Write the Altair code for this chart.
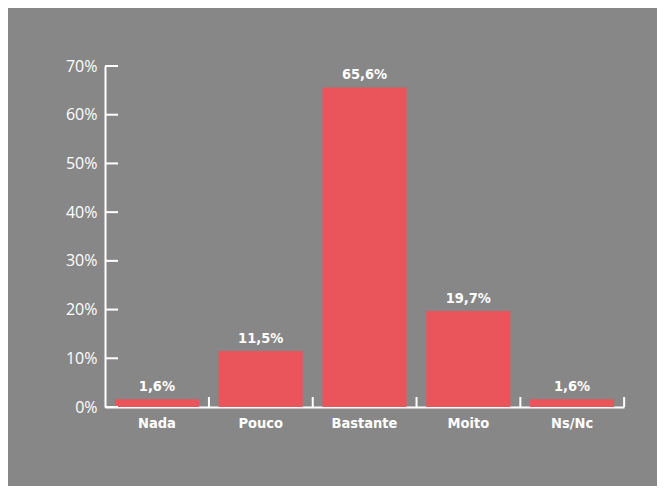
import altair as alt
import pandas as pd

categories = ["Nada", "Pouco", "Bastante", "Moito", "Ns/Nc"]
values = [1.6, 11.5, 65.6, 19.7, 1.6]
labels = ["1,6%", "11,5%", "65,6%", "19,7%", "1,6%"]
y_ticks = [0, 10, 20, 30, 40, 50, 60, 70]

df = pd.DataFrame({"cat": categories, "val": values, "lab": labels})
ticks_df = pd.DataFrame({"t": y_ticks})

BG = "#878787"
RED = "#ea555b"
W, H = 519, 341
BOLD_FONT = "'DejaVu Sans Condensed', 'Liberation Sans Narrow', 'Arial Narrow', sans-serif"

xscale = alt.Scale(domain=categories, paddingInner=0.19, paddingOuter=0.095)
yscale = alt.Scale(domain=[0, 70], nice=False)

bars = alt.Chart(df).mark_bar(color=RED).encode(
    x=alt.X("cat:N", scale=xscale, sort=categories, title=None,
            axis=alt.Axis(labelAngle=0, ticks=False, domainColor="white", domainWidth=2,
                          labelColor="white", labelFont=BOLD_FONT,
                          labelFontWeight="bold", labelFontSize=14.5, labelPadding=9)),
    y=alt.Y("val:Q", scale=yscale, title=None,
            axis=alt.Axis(values=y_ticks, labelExpr="datum.value + '%'", ticks=False,
                          grid=False, domainColor="white", domainWidth=2,
                          labelColor="white", labelFont="Open Sans", labelFontSize=16,
                          labelPadding=8)),
)

text = alt.Chart(df).mark_text(color="white", font=BOLD_FONT, fontWeight="bold",
                               fontSize=14.5, dy=-8, baseline="alphabetic").encode(
    x=alt.X("cat:N", scale=xscale, sort=categories),
    y=alt.Y("val:Q", scale=yscale),
    text="lab:N",
)

yt = alt.Chart(ticks_df).mark_rule(color="white", strokeWidth=2).encode(
    y=alt.Y("t:Q", scale=yscale),
    x=alt.value(0),
    x2=alt.value(13),
)

xt = alt.Chart(df).mark_rule(color="white", strokeWidth=2, xOffset=10).encode(
    x=alt.X("cat:N", scale=xscale, sort=categories, bandPosition=1),
    y=alt.value(H - 10),
    y2=alt.value(H),
)

chart = alt.layer(bars, yt, xt, text).properties(
    width=W, height=H,
    background=BG,
    padding={"left": 97, "top": 58, "right": 33, "bottom": 79},
    autosize=alt.AutoSizeParams(type="none"),
).configure_view(stroke=None)

chart.save("out.html", embed_options={"renderer": "svg", "actions": False})
